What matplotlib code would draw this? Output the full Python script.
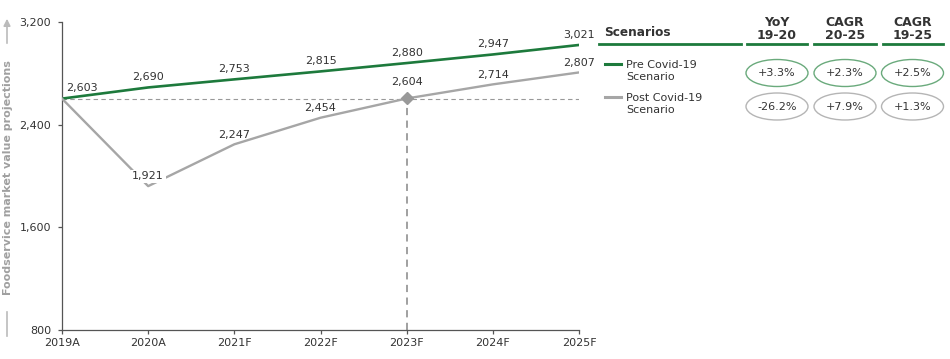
import matplotlib.pyplot as plt
from matplotlib.patches import Ellipse, FancyArrowPatch
from matplotlib.lines import Line2D

years = ["2019A", "2020A", "2021F", "2022F", "2023F", "2024F", "2025F"]
pre_covid = [2603, 2690, 2753, 2815, 2880, 2947, 3021]
post_covid = [2603, 1921, 2247, 2454, 2604, 2714, 2807]
yticks = [800, 1600, 2400, 3200]

headers = ["YoY\n19-20", "CAGR\n20-25", "CAGR\n19-25"]
pre_rates = ["+3.3%", "+2.3%", "+2.5%"]
post_rates = ["-26.2%", "+7.9%", "+1.3%"]

GREEN = "#1d7a3c"
GREEN_LIGHT = "#6aaa7c"
GRAY = "#a6a6a6"
TEXT = "#333333"
W, H = 950, 359

plt.rcParams['font.family'] = ['DejaVu Sans']
fig = plt.figure(figsize=(9.5, 3.59), dpi=100)
ax = fig.add_axes([62 / W, 1 - 330 / H, 517 / W, 308 / H])

x = list(range(len(years)))
ax.plot(x, pre_covid, color=GREEN, lw=1.9, zorder=3)
ax.plot(x, post_covid, color=GRAY, lw=1.7, zorder=3)
ax.axhline(pre_covid[0], color="#999999", lw=0.8, ls=(0, (4, 3)), zorder=1)
ax.plot([4, 4], [800, post_covid[4]], color="#999999", lw=1.3, ls=(0, (4, 3)), zorder=1)
ax.plot([4], [post_covid[4]], marker="D", color="#999999", ms=6, zorder=4)

# value labels
for i, v in enumerate(pre_covid):
    if i == 0:
        continue
    ax.annotate(f"{v:,}", (i, v), xytext=(0, 7.5), textcoords="offset points",
                ha="center", va="center", fontsize=8, color=TEXT)
for i, v in enumerate(post_covid):
    if i == 0:
        continue
    dy = 12 if i == 4 else 7
    bb = dict(boxstyle="square,pad=0.15", fc="white", ec="none") if i == 1 else None
    ax.annotate(f"{v:,}", (i, v), xytext=(0, dy), textcoords="offset points",
                ha="center", va="center", fontsize=8, color=TEXT, bbox=bb, zorder=5)
ax.annotate(f"{pre_covid[0]:,}", (0, pre_covid[0]), xytext=(14.5, 7.5),
            textcoords="offset points", ha="center", va="center", fontsize=8, color=TEXT)

ax.set_xlim(0, 6)
ax.set_ylim(800, 3200)
ax.set_xticks(x)
ax.set_xticklabels(years)
ax.set_yticks(yticks)
ax.set_yticklabels([f"{t:,}" for t in yticks])
ax.tick_params(colors="#555555", labelcolor=TEXT, labelsize=8, length=3, width=0.9)
ax.tick_params(axis="y", pad=5)
ax.tick_params(axis="x", pad=3)
for s in ["top", "right"]:
    ax.spines[s].set_visible(False)
for s in ["left", "bottom"]:
    ax.spines[s].set_color("#555555")
    ax.spines[s].set_linewidth(0.9)

# y label with arrow
fig.text(8 / W, 1 - 178 / H, "Foodservice market value projections", rotation=90,
         ha="center", va="center", fontsize=8, color="#a0a0a0", fontweight="bold")
fig.add_artist(Line2D([7 / W, 7 / W], [1 - 312 / H, 1 - 336 / H], color="#bbbbbb", lw=1.2))
fig.patches.append(FancyArrowPatch(
    (7 / W, 1 - 46 / H), (7 / W, 1 - 16 / H), transform=fig.transFigure,
    arrowstyle="-|>,head_length=4,head_width=2", color="#bbbbbb", lw=1.2))

# scenario table
fig.text(604 / W, 1 - 33 / H, "Scenarios", ha="left", va="center",
         fontsize=8.7, fontweight="bold", color=TEXT)
fig.add_artist(Line2D([599 / W, 741 / W], [1 - 44 / H] * 2, color=GREEN, lw=2))
col_x = [777, 845, 912.5]
col_span = [(747, 807), (814, 876), (883, 943)]
for cx, (a, b), h in zip(col_x, col_span, headers):
    fig.text(cx / W, 1 - 29 / H, h, ha="center", va="center", fontsize=9,
             fontweight="bold", color=TEXT, linespacing=1.05)
    fig.add_artist(Line2D([a / W, b / W], [1 - 44 / H] * 2, color=GREEN, lw=2))

rows = [(pre_rates, GREEN, GREEN_LIGHT, 64, 73, "Pre Covid-19\nScenario"),
        (post_rates, GRAY, "#b5b5b5", 97, 106.5, "Post Covid-19\nScenario")]
for rates, lc, ec, ly, ey, label in rows:
    fig.add_artist(Line2D([605 / W, 621 / W], [1 - ly / H] * 2, color=lc, lw=2.2))
    fig.text(626 / W, 1 - (ly + 7) / H, label, ha="left", va="center",
             fontsize=8, color=TEXT, linespacing=1.3)
    for cx, r in zip(col_x, rates):
        fig.add_artist(Ellipse((cx / W, 1 - ey / H), 62 / W, 27 / H,
                               transform=fig.transFigure, fc="none", ec=ec, lw=1))
        fig.text(cx / W, 1 - ey / H, r, ha="center", va="center", fontsize=8, color=TEXT)

fig.savefig("out.png", dpi=100)
